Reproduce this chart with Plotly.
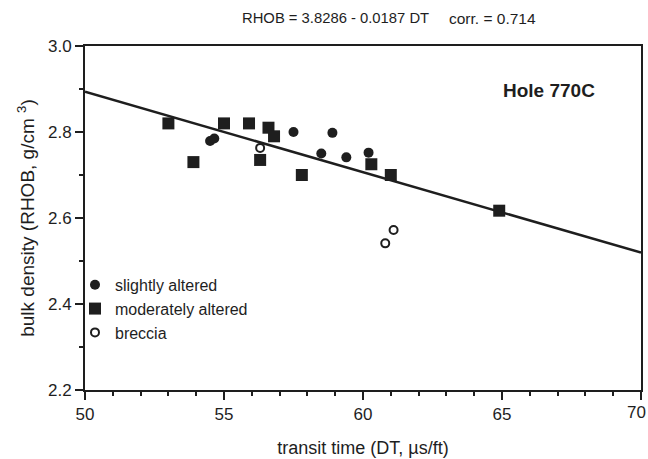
import plotly.graph_objects as go

# Data
slight_x = [54.5, 54.65, 57.5, 58.9, 58.5, 59.4, 60.2]
slight_y = [2.779, 2.785, 2.80, 2.798, 2.75, 2.741, 2.752]

moderate_x = [53.0, 53.9, 55.0, 55.9, 56.3, 56.6, 56.8, 57.8, 60.3, 61.0, 64.9]
moderate_y = [2.82, 2.73, 2.82, 2.82, 2.735, 2.81, 2.79, 2.70, 2.725, 2.70, 2.617]

breccia_x = [56.3, 60.8, 61.1]
breccia_y = [2.763, 2.541, 2.572]

x_tickvals = [50, 55, 60, 65, 70]
x_ticktext = ["50", "55", "60", "65", "70"]
y_tickvals = [2.2, 2.4, 2.6, 2.8, 3.0]
y_ticktext = ["2.2", "2.4", "2.6", "2.8", "3.0"]

# Regression: RHOB = 3.8286 - 0.0187 DT
intercept = 3.8286
slope = -0.0187
line_x = [50, 70]
line_y = [intercept + slope * v for v in line_x]

INK = "#1e1e1e"
FONT = "Liberation Sans, Arial, Helvetica, sans-serif"

fig = go.Figure()
fig.add_trace(go.Scatter(x=line_x, y=line_y, mode="lines",
                         line=dict(color=INK, width=2.5), showlegend=False,
                         hoverinfo="skip"))
fig.add_trace(go.Scatter(x=slight_x, y=slight_y, mode="markers",
                         name="slightly altered",
                         marker=dict(symbol="circle", size=10, color=INK)))
fig.add_trace(go.Scatter(x=moderate_x, y=moderate_y, mode="markers",
                         name="moderately altered",
                         marker=dict(symbol="square", size=12, color=INK)))
fig.add_trace(go.Scatter(x=breccia_x, y=breccia_y, mode="markers",
                         name="breccia",
                         marker=dict(symbol="circle", size=8, color="white",
                                     line=dict(color=INK, width=2))))

axis_common = dict(showline=True, linecolor=INK, linewidth=2, mirror=True,
                   ticks="outside", tickcolor=INK, tickwidth=2, ticklen=8,
                   showgrid=False, zeroline=False,
                   automargin=False,
                   tickfont=dict(family=FONT, size=17, color=INK))

# last x tick label is drawn as an annotation so it stays inside the page
fig.update_xaxes(range=[50, 70], tickvals=x_tickvals,
                 ticktext=x_ticktext[:-1] + [""],
                 minor=dict(dtick=1, ticks="outside", ticklen=4, tickcolor=INK,
                            tickwidth=1.5, showgrid=False),
                 title=dict(text="transit time (DT, µs/ft)", standoff=18,
                            font=dict(family=FONT, size=18, color=INK)),
                 **axis_common)
fig.add_annotation(text=x_ticktext[-1], x=x_tickvals[-1], xref="x",
                   y=-0.066, yref="paper", xanchor="right", yanchor="middle",
                   xshift=7, showarrow=False,
                   font=dict(family=FONT, size=17, color=INK))

fig.update_yaxes(range=[2.2, 3.0], tickvals=y_tickvals, ticktext=y_ticktext,
                 minor=dict(dtick=0.1, ticks="outside", ticklen=4, tickcolor=INK,
                            tickwidth=1.5, showgrid=False),
                 title=dict(text="bulk density (RHOB, g/cm <sup>3</sup>)", standoff=8,
                            font=dict(family=FONT, size=19, color=INK)),
                 **axis_common)

fig.add_annotation(text="RHOB = 3.8286 - 0.0187 DT", xref="paper", yref="paper",
                   x=(240 - 85) / 556, y=1 + (46 - 18) / 344, showarrow=False,
                   xanchor="left", yanchor="middle",
                   font=dict(family=FONT, size=14.8, color=INK))
fig.add_annotation(text="corr. = 0.714", xref="paper", yref="paper",
                   x=(447 - 85) / 556, y=1 + (46 - 18) / 344, showarrow=False,
                   xanchor="left", yanchor="middle",
                   font=dict(family=FONT, size=15.5, color=INK))
fig.add_annotation(text="<b>Hole 770C</b>", xref="paper", yref="paper",
                   x=(501 - 85) / 556, y=(390 - 90) / 344, showarrow=False,
                   xanchor="left", yanchor="middle",
                   font=dict(family=FONT, size=19, color=INK))

fig.update_layout(
    width=648, height=459,
    margin=dict(l=85, r=7, t=46, b=69, autoexpand=False),
    paper_bgcolor="white", plot_bgcolor="white",
    showlegend=True,
    legend=dict(x=-0.018, y=0.355, xanchor="left", yanchor="top",
                bgcolor="rgba(0,0,0,0)", itemwidth=30,
                font=dict(family=FONT, size=16, color=INK),
                tracegroupgap=0),
)

fig.write_html("out.html")
